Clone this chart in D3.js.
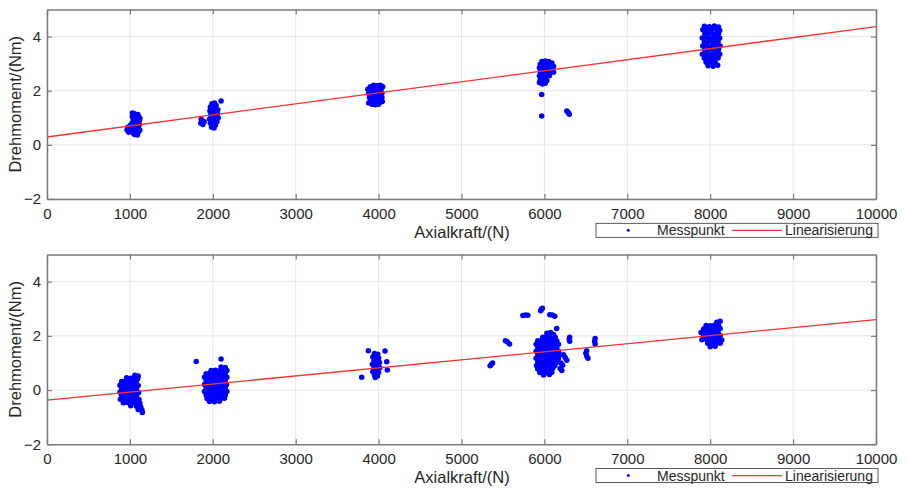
<!DOCTYPE html>
<html>
<head>
<meta charset="utf-8">
<script src="https://cdn.jsdelivr.net/npm/d3@7"></script>
<style>
  html, body { margin: 0; padding: 0; background: #fff; }
  svg { display: block; font-family: Arial, "Liberation Sans", sans-serif; }
</style>
</head>
<body>
<svg id="chart" width="907" height="490"></svg>
<script>
// ---------------- data ----------------
const xTicks = [0, 1000, 2000, 3000, 4000, 5000, 6000, 7000, 8000, 9000, 10000];
const yTicks = [-2, 0, 2, 4];
const xLabel = "Axialkraft/(N)";
const yLabel = "Drehmoment/(Nm)";
const legendLabels = ["Messpunkt", "Linearisierung"];

// upper panel: measured points [Axialkraft, Drehmoment]
const messTop = [
  // ~1000 N
  [1030,1.18],[1055,1.15],[1080,1.08],[1105,1.05],[1120,0.98],[1030,1.05],[1060,1.0],[1090,0.95],
  [1115,0.9],[1040,0.92],[1070,0.85],[1100,0.82],[1025,0.8],[1055,0.75],[1085,0.72],[1115,0.75],
  [1040,0.65],[1070,0.6],[1100,0.62],[1120,0.55],[1050,0.5],[1080,0.45],[1105,0.48],[1060,0.38],
  [1090,0.36],[1045,0.42],[975,0.65],[965,0.55],[985,0.47],[1010,0.6],[1005,0.72],[1035,1.12],[1095,1.12],
  // ~2000 N
  [1990,1.52],[2020,1.55],[2040,1.45],[1970,1.4],[2000,1.38],[2030,1.35],[2060,1.3],[1965,1.25],
  [1995,1.22],[2025,1.2],[2055,1.15],[1975,1.1],[2005,1.05],[2035,1.02],[2065,1.0],[1960,0.95],
  [1990,0.92],[2020,0.88],[2050,0.85],[1970,0.8],[2000,0.75],[2030,0.72],[1985,0.65],[2015,0.62],
  [1860,0.95],[1875,0.88],[1855,0.8],[1880,0.75],[1895,0.85],[2100,1.62],
  // ~4000 N
  [3900,2.15],[3940,2.2],[3980,2.18],[4020,2.2],[4050,2.15],[3870,2.05],[3910,2.02],[3950,2.05],
  [3990,2.0],[4030,2.05],[3880,1.9],[3920,1.88],[3960,1.92],[4000,1.88],[4040,1.9],[3890,1.75],
  [3930,1.78],[3970,1.75],[4010,1.72],[4040,1.75],[3900,1.62],[3940,1.6],[3980,1.62],[4020,1.58],
  [3920,1.5],[3960,1.48],[4000,1.5],[4045,1.6],[3880,1.55],
  // ~6000 N
  [5970,3.08],[6010,3.1],[6050,3.08],[6090,3.02],[5950,2.98],[5990,2.96],[6030,2.98],[6070,2.95],
  [6110,2.9],[5940,2.85],[5980,2.82],[6020,2.84],[6060,2.8],[6100,2.78],[5950,2.7],[5990,2.68],
  [6030,2.7],[6070,2.66],[6110,2.68],[5940,2.55],[5980,2.55],[6020,2.52],[6060,2.55],[5950,2.42],
  [5990,2.4],[6030,2.38],[5940,2.3],[5975,2.25],[6010,2.28],[5967,1.86],[5967,1.07],
  [6270,1.25],[6285,1.2],[6300,1.13],
  // ~8000 N
  [7930,4.38],[7990,4.36],[8050,4.39],[8100,4.35],
  [7910,4.25],[7960,4.23],[8020,4.26],[8080,4.24],[8115,4.22],
  [7935,4.1],[7990,4.12],[8045,4.09],[8100,4.11],
  [7905,3.95],[7960,3.97],[8015,3.94],[8070,3.96],[8115,3.95],
  [7930,3.8],[7985,3.82],[8040,3.79],[8095,3.81],
  [7910,3.65],[7960,3.67],[8020,3.64],[8075,3.66],[8120,3.65],
  [7935,3.5],[7990,3.52],[8045,3.49],[8100,3.51],
  [7905,3.35],[7960,3.37],[8015,3.34],[8070,3.36],[8115,3.35],
  [7930,3.2],[7985,3.22],[8040,3.19],[8095,3.21],
  [7950,3.05],[8005,3.07],[8060,3.04],
  [7975,2.92],[8035,2.9],[8090,2.94]
];

// lower panel: measured points [Axialkraft, Drehmoment]
const messBottom = [
  // ~1000 N
  [1060,0.55],[1100,0.52],
  [960,0.45],[1010,0.44],[1055,0.46],[1095,0.43],
  [900,0.32],[945,0.33],[990,0.31],[1035,0.32],[1080,0.34],
  [880,0.18],[925,0.19],[970,0.17],[1015,0.18],[1060,0.2],[1100,0.17],
  [900,0.05],[945,0.06],[990,0.04],[1035,0.05],[1080,0.07],
  [880,-0.08],[925,-0.07],[970,-0.09],[1015,-0.08],[1060,-0.06],[1105,-0.09],
  [900,-0.21],[945,-0.2],[990,-0.22],[1035,-0.21],[1080,-0.19],
  [885,-0.34],[925,-0.33],[970,-0.35],[1015,-0.34],[1060,-0.32],[1110,-0.35],
  [920,-0.47],[965,-0.46],[1010,-0.48],[1060,-0.47],[1120,-0.49],
  [1010,-0.58],[1080,-0.6],[1130,-0.62],
  [1100,-0.72],[1145,-0.73],[1150,-0.83],
  // ~2000 N
  [2100,0.85],[2150,0.83],
  [1980,0.72],[2030,0.73],[2080,0.71],[2130,0.74],[2170,0.72],
  [1920,0.6],[1965,0.61],[2010,0.59],[2055,0.6],[2100,0.62],[2150,0.6],
  [1900,0.47],[1945,0.48],[1990,0.46],[2035,0.47],[2080,0.49],[2125,0.46],[2170,0.47],
  [1920,0.34],[1965,0.35],[2010,0.33],[2055,0.34],[2100,0.36],[2150,0.34],
  [1900,0.21],[1945,0.22],[1990,0.2],[2035,0.21],[2080,0.23],[2125,0.2],[2165,0.21],
  [1920,0.08],[1965,0.09],[2010,0.07],[2055,0.08],[2100,0.1],[2150,0.08],
  [1900,-0.05],[1945,-0.04],[1990,-0.06],[2035,-0.05],[2080,-0.03],[2125,-0.06],[2170,-0.05],
  [1920,-0.18],[1965,-0.17],[2010,-0.19],[2055,-0.18],[2100,-0.16],[2150,-0.18],
  [1930,-0.31],[1985,-0.3],[2040,-0.32],[2095,-0.31],[2140,-0.3],
  [1960,-0.42],[2020,-0.43],[2080,-0.41],
  [1800,1.05],[2100,1.15],
  // ~4000 N
  [3950,1.35],[3990,1.32],[3930,1.22],[3965,1.2],[4000,1.18],[3945,1.08],[3980,1.05],[4010,1.02],
  [3925,0.95],[3960,0.92],[3995,0.9],[3945,0.8],[3980,0.78],[4015,0.82],[3930,0.68],[3965,0.66],
  [4000,0.65],[3950,0.56],[3985,0.52],[3960,0.46],
  [3876,1.45],[4077,1.44],[4098,1.04],[4105,0.74],[3796,0.47],
  // ~6000 N
  [6030,2.1],[6075,2.12],
  [5980,1.95],[6030,1.96],[6080,1.94],[6130,1.95],
  [5920,1.82],[5965,1.83],[6010,1.81],[6055,1.82],[6100,1.84],[6150,1.81],
  [5900,1.69],[5945,1.7],[5990,1.68],[6035,1.69],[6080,1.71],[6125,1.68],[6170,1.69],
  [5920,1.56],[5965,1.57],[6010,1.55],[6055,1.56],[6100,1.58],[6150,1.55],
  [5900,1.43],[5945,1.44],[5990,1.42],[6035,1.43],[6080,1.45],[6125,1.42],[6170,1.43],
  [5920,1.3],[5965,1.31],[6010,1.29],[6055,1.3],[6100,1.32],[6150,1.29],[6190,1.3],
  [5900,1.17],[5945,1.18],[5990,1.16],[6035,1.17],[6080,1.19],[6125,1.16],[6170,1.17],
  [5920,1.04],[5965,1.05],[6010,1.03],[6055,1.04],[6100,1.06],[6150,1.03],
  [5905,0.91],[5945,0.92],[5990,0.9],[6035,0.91],[6080,0.93],[6125,0.9],
  [5920,0.78],[5965,0.79],[6010,0.77],[6055,0.78],[6100,0.8],
  [5945,0.65],[5990,0.66],[6040,0.64],[6090,0.66],
  [5990,0.56],[6060,0.57],
  [5345,0.9],[5360,0.95],[5375,1.0],
  [5530,1.82],[5555,1.77],[5580,1.7],
  [5740,2.75],[5770,2.77],[5800,2.76],
  [5955,2.93],[5965,2.98],[5975,3.02],
  [6065,2.78],[6095,2.77],[6125,2.72],
  [6148,2.27],[6110,2.05],
  [6305,1.95],[6300,1.87],[6305,1.8],
  [6230,1.3],[6250,1.2],[6270,1.1],
  [6200,1.0],[6220,0.92],[6190,0.8],[6210,0.72],
  [6510,1.45],[6500,1.36],[6510,1.26],[6525,1.17],
  [6612,1.9],[6606,1.8],[6612,1.7],
  // ~8000 N
  [8080,2.5],[8120,2.54],
  [7950,2.38],[8000,2.37],[8050,2.39],[8100,2.38],
  [7920,2.25],[7970,2.26],[8020,2.24],[8070,2.25],[8120,2.27],
  [7890,2.12],[7945,2.13],[7995,2.11],[8045,2.12],[8095,2.14],
  [7920,1.99],[7970,2.0],[8020,1.98],[8070,1.99],[8120,2.01],
  [7900,1.86],[7950,1.87],[8000,1.85],[8050,1.86],[8100,1.88],[8140,1.85],
  [7970,1.73],[8020,1.74],[8070,1.72],[8120,1.73],
  [8000,1.6],[8060,1.62]
];

// linear fits (endpoints)
const fitTop = [[0, 0.29], [10000, 4.37]];
const fitBottom = [[0, -0.37], [10000, 2.6]];

// ---------------- drawing ----------------
const svg = d3.select("#chart");
const L = 47, R = 876;
const panels = [
  { top: 9.5, bottom: 199, pts: messTop, fit: fitTop },
  { top: 254.5, bottom: 444.3, pts: messBottom, fit: fitBottom }
];
const textColor = "#262626";
const axisColor = "#7a7a7a";
const gridColor = "#e6e6e6";

const x = d3.scaleLinear().domain([0, 10000]).range([L, R]);

panels.forEach(p => {
  const y = d3.scaleLinear().domain([-2, 5]).range([p.bottom, p.top]);
  const g = svg.append("g");

  // grid
  g.append("g").selectAll("line.vx").data(xTicks).join("line")
    .attr("x1", d => x(d)).attr("x2", d => x(d))
    .attr("y1", p.top).attr("y2", p.bottom)
    .attr("stroke", gridColor).attr("stroke-width", 1);
  g.append("g").selectAll("line.hy").data(yTicks).join("line")
    .attr("x1", L).attr("x2", R)
    .attr("y1", d => y(d)).attr("y2", d => y(d))
    .attr("stroke", gridColor).attr("stroke-width", 1);

  // points
  g.append("g").selectAll("circle").data(p.pts).join("circle")
    .attr("cx", d => x(d[0])).attr("cy", d => y(d[1]))
    .attr("r", 2.75).attr("fill", "#0000ff");

  // fit line
  g.append("path").datum(p.fit)
    .attr("d", d3.line().x(d => x(d[0])).y(d => y(d[1])))
    .attr("fill", "none").attr("stroke", "#ff3030").attr("stroke-width", 1.3);

  // axes
  const styleAxis = sel => {
    sel.select(".domain").attr("stroke", axisColor).attr("stroke-width", 1.5);
    sel.selectAll(".tick line").attr("stroke", axisColor).attr("stroke-width", 1.2);
    sel.selectAll(".tick text").attr("fill", textColor).style("font-size", "15px")
      .style("font-family", "Arial, 'Liberation Sans', sans-serif");
  };
  g.append("g").attr("transform", `translate(0,${p.bottom})`)
    .call(d3.axisBottom(x).tickValues(xTicks).tickSize(-5).tickSizeOuter(0).tickPadding(9).tickFormat(d3.format("d")))
    .call(styleAxis);
  g.append("g").attr("transform", `translate(0,${p.top})`)
    .call(d3.axisTop(x).tickValues(xTicks).tickSize(-5).tickSizeOuter(0).tickFormat(""))
    .call(styleAxis);
  g.append("g").attr("transform", `translate(${L},0)`)
    .call(d3.axisLeft(y).tickValues(yTicks).tickSize(-5).tickSizeOuter(0).tickPadding(6).tickFormat(d3.format("d")))
    .call(styleAxis);
  g.append("g").attr("transform", `translate(${R},0)`)
    .call(d3.axisRight(y).tickValues(yTicks).tickSize(-5).tickSizeOuter(0).tickFormat(""))
    .call(styleAxis);

  // axis labels
  g.append("text").attr("x", 462).attr("y", p.bottom + 39)
    .attr("text-anchor", "middle").attr("fill", textColor)
    .style("font-size", "16.5px").text(xLabel);
  g.append("text")
    .attr("transform", `translate(15,${(p.top + p.bottom) / 2}) rotate(-90)`)
    .attr("text-anchor", "middle").attr("dominant-baseline", "central")
    .attr("fill", textColor).style("font-size", "16.5px").text(yLabel);

  // legend
  const ly = p.bottom + 24.3, lh = 14;
  const lg = g.append("g");
  lg.append("rect").attr("x", 596).attr("y", ly).attr("width", 282).attr("height", lh)
    .attr("fill", "#fff").attr("stroke", "#333").attr("stroke-width", 0.8);
  lg.append("circle").attr("cx", 628.3).attr("cy", ly + lh / 2).attr("r", 1.5).attr("fill", "#0000ff");
  lg.append("text").attr("x", 657).attr("y", ly + lh / 2).attr("dominant-baseline", "central")
    .attr("fill", textColor).style("font-size", "14px").text(legendLabels[0]);
  lg.append("line").attr("x1", 732).attr("x2", 782).attr("y1", ly + lh / 2).attr("y2", ly + lh / 2)
    .attr("stroke", "#ff3030").attr("stroke-width", 1.3);
  lg.append("text").attr("x", 785).attr("y", ly + lh / 2).attr("dominant-baseline", "central")
    .attr("fill", textColor).style("font-size", "14px").text(legendLabels[1]);
});
</script>
</body>
</html>
